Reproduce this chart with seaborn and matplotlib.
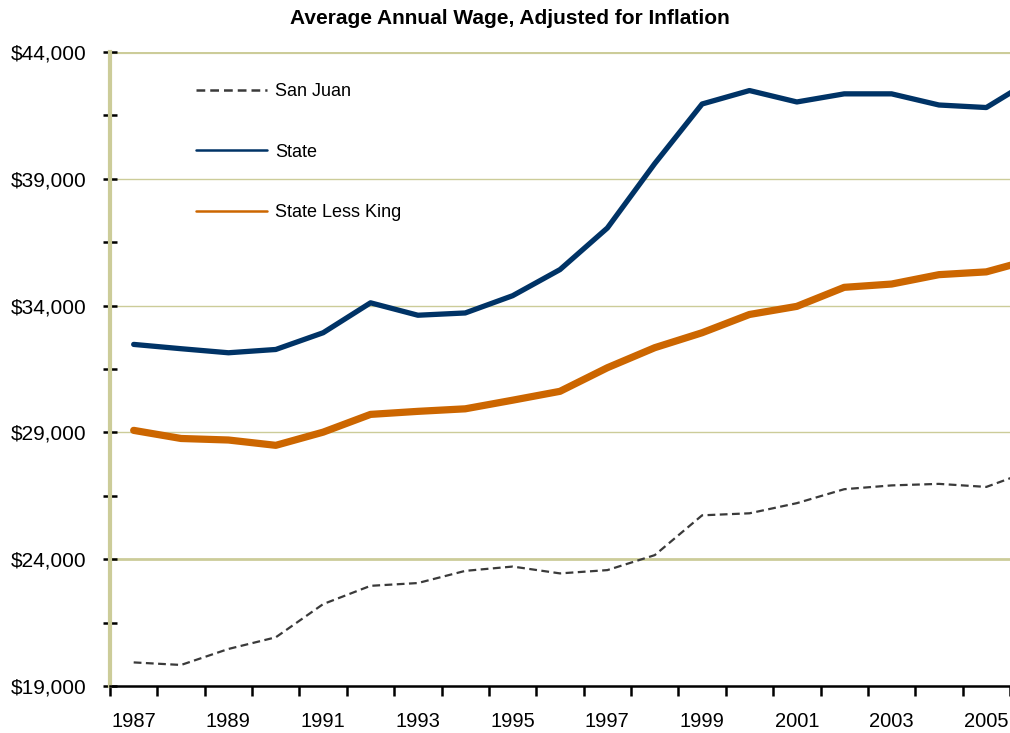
import numpy as np
import pandas as pd
import seaborn as sns
import matplotlib
matplotlib.use('Agg')
import matplotlib.pyplot as plt

# 数据
years = list(range(1987, 2007))
san_juan = [19930, 19830, 20460, 20920, 22230, 22950, 23060, 23540, 23710, 23440,
            23570, 24160, 25730, 25810, 26210, 26760, 26910, 26970, 26850, 27530]
state = [32470, 32300, 32140, 32270, 32930, 34110, 33620, 33710, 34390, 35420,
         37060, 39600, 41950, 42480, 42030, 42350, 42350, 41910, 41810, 42950]
state_less_king = [29080, 28760, 28700, 28490, 29010, 29710, 29830, 29930, 30270, 30620,
                   31550, 32340, 32930, 33650, 33970, 34720, 34850, 35220, 35330, 35840]
series_names = ['San Juan', 'State', 'State Less King']
title = 'Average Annual Wage, Adjusted for Inflation'

df = pd.DataFrame({'Year': years, 'San Juan': san_juan, 'State': state,
                   'State Less King': state_less_king})
long_df = df.melt(id_vars='Year', var_name='Series', value_name='Wage')

sns.set_style('white')
plt.rcParams['font.family'] = ['Liberation Sans', 'DejaVu Sans']
plt.rcParams['text.color'] = 'black'
plt.rcParams['xtick.color'] = 'black'
plt.rcParams['ytick.color'] = 'black'

fig = plt.figure(figsize=(10.1, 7.33), dpi=100)
ax = fig.add_axes([110 / 1010, 1 - 686 / 733, 1 - 110 / 1010, (686 - 52) / 733])

grid_color = '#CCCC99'
# 网格线
for v, lw in [(24000, 2.0), (29000, 1.0), (34000, 1.0), (39000, 1.0), (44000, 3.0)]:
    ax.axhline(v, color=grid_color, lw=lw, zorder=0)

styles = {
    'San Juan': dict(color='#3a3a3a', lw=1.6, dashes=(3.5, 2)),
    'State': dict(color='#003366', lw=3.8),
    'State Less King': dict(color='#CC6600', lw=5.2),
}
for name in series_names:
    sub = long_df[long_df['Series'] == name]
    st = styles[name]
    line_kw = dict(color=st['color'], lw=st['lw'], solid_capstyle='round')
    if 'dashes' in st:
        line_kw['linestyle'] = (0, st['dashes'])
    sns.lineplot(data=sub, x='Year', y='Wage', ax=ax, label=name, **line_kw)

ax.set_xlim(1986.5, 2005.5)
ax.set_ylim(19000, 44000)

# x 轴：刻度在年份之间，标签在年份上
ax.set_xticks(years[:-1:2])
ax.set_xticklabels([str(y) for y in years[:-1:2]], fontsize=14.5)
ax.set_xticks(np.arange(1986.5, 2006, 1), minor=True)
ax.tick_params(axis='x', which='major', bottom=True, length=0, pad=19)
ax.tick_params(axis='x', which='minor', bottom=True, length=7, width=1.8,
               color='black', direction='out')

yt = [19000, 24000, 29000, 34000, 39000, 44000]
ax.set_yticks(yt)
ax.set_yticklabels(['${:,}'.format(v) for v in yt], fontsize=15)
ax.set_yticks(np.arange(21500, 44000, 5000), minor=True)
ax.tick_params(axis='y', which='both', left=True, length=10, width=1.8, color='black',
               direction='inout', pad=12)

ax.set_xlabel('')
ax.set_ylabel('')

for s in ['top', 'right']:
    ax.spines[s].set_visible(False)
ax.spines['left'].set_color(grid_color)
ax.spines['left'].set_linewidth(3)
ax.spines['bottom'].set_color('black')
ax.spines['bottom'].set_linewidth(1.8)

leg = ax.legend(loc='upper left', bbox_to_anchor=(0.078, 0.976), frameon=False,
                fontsize=13, labelspacing=2.4, handlelength=3.9, handletextpad=0.45)
for ln in leg.get_lines():
    ln.set_linewidth(1.8)

fig.text(0.505, 0.975, title, ha='center', va='center', fontsize=15, fontweight='bold')

fig.savefig('out.png', dpi=100)
